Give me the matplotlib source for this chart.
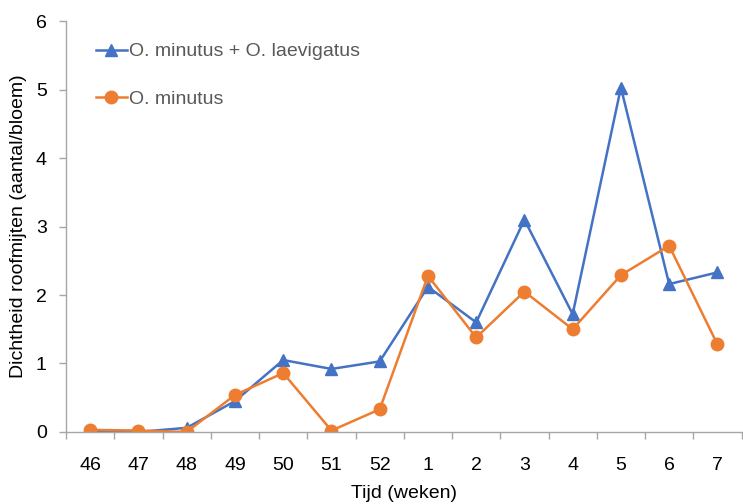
import numpy as np
import matplotlib.pyplot as plt
from matplotlib.ticker import FixedLocator

plt.rcParams['font.family'] = ['Liberation Sans', 'DejaVu Sans']

weeks = ['46', '47', '48', '49', '50', '51', '52', '1', '2', '3', '4', '5', '6', '7']
combined = [0.0, 0.0, 0.06, 0.45, 1.05, 0.92, 1.03, 2.12, 1.6, 3.1, 1.72, 5.03, 2.16, 2.33]
minutus = [0.03, 0.02, 0.0, 0.54, 0.86, 0.02, 0.33, 2.28, 1.38, 2.05, 1.5, 2.29, 2.72, 1.28]

blue = '#4472C4'
orange = '#ED7D31'
grey = '#A6A6A6'

fig = plt.figure(figsize=(7.43, 5.04), dpi=100)
ax = fig.add_axes([0.089, 0.143, 0.909, 0.815])

x = np.arange(len(weeks))
ax.plot(x, combined, color=blue, lw=1.8, marker='^', ms=8, label='O. minutus + O. laevigatus')
ax.plot(x, minutus, color=orange, lw=1.8, marker='o', ms=9, label='O. minutus')

ax.set_xlim(-0.5, len(weeks) - 0.5)
ax.set_ylim(0, 6)
ax.set_xticks(x)
ax.set_xticklabels(weeks)
ax.xaxis.set_minor_locator(FixedLocator(np.arange(-0.5, len(weeks), 1)))
ax.tick_params(axis='x', which='major', length=0, pad=18, labelsize=14)
ax.tick_params(axis='x', which='minor', length=5, color=grey, width=1)
ax.tick_params(axis='y', length=5, color=grey, width=1, labelsize=14, pad=9)
ax.set_yticks(range(7))

for s in ['top', 'right']:
    ax.spines[s].set_visible(False)
for s in ['left', 'bottom']:
    ax.spines[s].set_color(grey)
    ax.spines[s].set_linewidth(1)

ax.set_xlabel('Tijd (weken)', fontsize=14, labelpad=8)
ax.set_ylabel('Dichtheid roofmijten (aantal/bloem)', fontsize=14, labelpad=6)

leg = ax.legend(loc='upper left', bbox_to_anchor=(0.018, 0.99), frameon=False, fontsize=14,
                handlelength=1.6, handletextpad=0.1, labelspacing=1.55)
for t in leg.get_texts():
    t.set_color('#595959')

fig.savefig('out.png', dpi=100)
